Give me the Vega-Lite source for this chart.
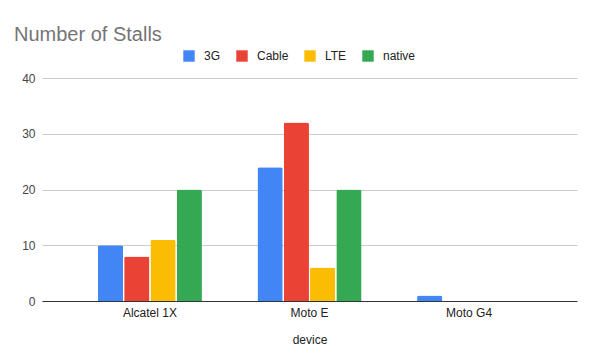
{
  "$schema": "https://vega.github.io/schema/vega-lite/v6.json",
  "width": 535,
  "height": 223,
  "autosize": {"type": "none"},
  "padding": {"left": 42, "top": 78, "right": 15, "bottom": 56},
  "background": "white",
  "config": {
    "view": {"stroke": null},
    "font": "Liberation Sans"
  },
  "title": {
    "text": "Number of Stalls",
    "anchor": "start",
    "frame": "group",
    "dx": -28,
    "offset": 5,
    "fontSize": 20,
    "fontWeight": "normal",
    "color": "#757575",
    "font": "Liberation Sans"
  },
  "data": {
    "values": [
      {"device": "Alcatel 1X", "network": "3G", "stalls": 10},
      {"device": "Alcatel 1X", "network": "Cable", "stalls": 8},
      {"device": "Alcatel 1X", "network": "LTE", "stalls": 11},
      {"device": "Alcatel 1X", "network": "native", "stalls": 20},
      {"device": "Moto E", "network": "3G", "stalls": 24},
      {"device": "Moto E", "network": "Cable", "stalls": 32},
      {"device": "Moto E", "network": "LTE", "stalls": 6},
      {"device": "Moto E", "network": "native", "stalls": 20},
      {"device": "Moto G4", "network": "3G", "stalls": 1},
      {"device": "Moto G4", "network": "Cable", "stalls": 0},
      {"device": "Moto G4", "network": "LTE", "stalls": 0},
      {"device": "Moto G4", "network": "native", "stalls": 0}
    ]
  },
  "mark": {"type": "bar", "cornerRadiusTopLeft": 2, "cornerRadiusTopRight": 2},
  "encoding": {
    "x": {
      "field": "device",
      "type": "nominal",
      "scale": {"paddingInner": 0.348, "paddingOuter": 0.35},
      "axis": {
        "title": "device",
        "titleFontWeight": "normal",
        "titleFontSize": 12,
        "titleColor": "#222",
        "titlePadding": 16,
        "labelAngle": 0,
        "labelFontSize": 12,
        "labelColor": "#222",
        "labelPadding": 6,
        "ticks": false,
        "domainColor": "#333",
        "domainWidth": 1
      }
    },
    "xOffset": {
      "field": "network",
      "type": "nominal",
      "scale": {"paddingInner": 0.04}
    },
    "y": {
      "field": "stalls",
      "type": "quantitative",
      "scale": {"domain": [0, 40]},
      "axis": {
        "title": null,
        "values": [0, 10, 20, 30, 40],
        "labelFontSize": 12,
        "labelColor": "#444",
        "labelPadding": 7,
        "ticks": false,
        "domain": false,
        "gridColor": "#cccccc"
      }
    },
    "color": {
      "field": "network",
      "type": "nominal",
      "scale": {
        "domain": ["3G", "Cable", "LTE", "native"],
        "range": ["#4285F4", "#EA4335", "#FBBC04", "#34A853"]
      },
      "legend": {
        "title": null,
        "orient": "none",
        "direction": "horizontal",
        "legendX": 141,
        "legendY": -28,
        "symbolType": "square",
        "symbolSize": 130,
        "symbolStrokeWidth": 0,
        "labelFontSize": 12,
        "labelColor": "#222",
        "labelOffset": 9,
        "columnPadding": 15
      }
    }
  }
}
